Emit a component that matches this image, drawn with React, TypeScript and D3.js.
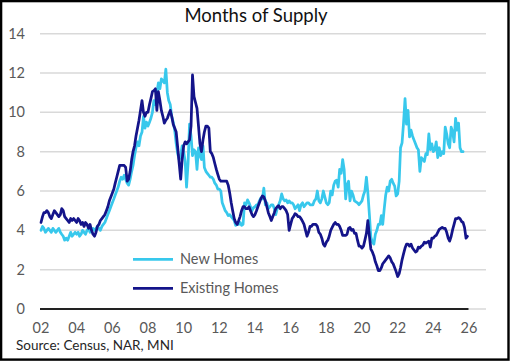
import React from "react";
import * as d3 from "d3";

// monthly data, Jan 2002 onwards
const startYear = 2002;

const newHomes = [
  4.0, 4.2, 4.1, 3.9, 4.0, 4.1, 4.0, 3.9, 4.1, 4.0, 3.9, 4.0,
  4.1, 3.9, 3.8, 3.7, 3.5, 3.6, 3.5, 3.7, 3.9, 3.7, 3.8, 3.9,
  3.8, 3.9, 3.7, 3.8, 4.0, 3.9, 3.8, 4.0, 4.1, 3.9, 4.0, 4.1,
  4.0, 4.1, 4.2, 4.1, 4.0, 4.2, 4.3, 4.4, 4.6, 4.8, 5.0, 5.2,
  5.4, 5.6, 5.8, 6.0, 6.2, 6.5, 6.7, 6.6, 6.8, 6.6, 6.4, 6.3,
  6.6, 7.0, 7.3, 7.8, 8.2, 8.5, 8.3, 8.8, 9.0, 9.8, 9.2, 9.5,
  9.3, 9.5, 9.7, 10.0, 10.6, 10.4, 11.0, 11.5, 11.2, 11.7, 11.6, 11.5,
  12.2, 11.0, 10.6, 10.4, 9.8, 9.5, 9.1, 8.4, 7.9, 7.6, 7.8, 8.3,
  8.0, 7.5, 6.2, 7.4, 9.4, 8.8, 7.8, 8.1, 8.0, 7.1, 8.2, 7.8,
  7.6, 8.3, 7.2, 7.0, 6.9, 6.8, 6.7, 6.7, 6.6, 6.4, 6.3, 6.1,
  6.1, 6.0, 5.4, 5.2, 5.0, 4.9, 4.75, 4.8, 4.7, 4.6, 4.5, 4.25,
  4.3, 4.3, 4.4, 4.25, 4.3, 5.4, 5.3, 5.55, 5.4, 5.2, 5.0, 5.15,
  5.2, 5.3, 5.3, 5.5, 5.65, 5.6, 6.15, 5.3, 5.4, 5.1, 5.2, 5.3,
  5.3, 5.1, 4.8, 5.1, 5.3, 5.5, 5.85, 5.6, 5.5, 5.55, 5.4, 5.5,
  5.4, 5.4, 5.3, 5.1, 5.2, 5.3, 5.0, 5.3, 5.4, 5.2, 5.3, 5.4,
  5.4, 5.3, 5.3, 5.3, 5.5, 5.6, 6.0, 5.5, 5.4, 5.6, 6.0, 5.7,
  5.4, 5.3, 5.4, 6.0, 5.8, 6.3, 6.5, 6.55, 6.2, 7.1, 6.9, 7.6,
  7.1, 5.6, 6.3, 6.5, 5.5, 6.0, 5.8, 5.5, 5.45, 5.4, 5.3, 5.4,
  5.5, 5.8, 6.0, 6.7, 5.9, 4.8, 3.65, 3.4, 3.3, 3.8, 4.0, 4.3,
  4.3, 4.75, 4.3, 5.1, 5.8, 6.2, 6.0, 6.5, 6.6, 6.4, 6.25, 5.75,
  5.85, 6.5, 8.2, 8.45, 9.45, 10.7, 9.4, 10.1, 8.75, 9.1, 8.8, 8.6,
  8.4, 8.2, 8.1, 7.0, 7.7, 7.6, 7.5, 7.9, 7.85, 8.9, 8.1, 8.4,
  8.0, 8.1, 8.5, 7.7, 8.2, 7.8, 8.0, 7.9, 9.25, 8.9, 8.4, 8.2,
  9.25, 9.0, 8.5, 9.7, 9.1, 9.45, 8.2, 8.0, 8.0,
];

const existingHomes = [
  4.4, 4.7, 4.9, 4.9, 5.0, 4.9, 4.7, 4.6, 4.8, 5.0, 4.9, 4.8,
  4.7, 4.8, 5.1, 5.0, 4.7, 4.6, 4.5, 4.4, 4.6, 4.5, 4.6, 4.5,
  4.4, 4.6, 4.5, 4.3, 4.4, 4.2, 4.4, 4.3, 4.1, 4.3, 4.0, 3.8,
  3.7, 3.9, 4.2, 4.3, 4.5, 4.6, 4.7, 4.8, 5.0, 5.2, 5.5, 5.7,
  5.9, 6.1, 6.4, 6.7, 7.0, 7.3, 7.3, 7.3, 7.3, 7.2, 6.5, 6.6,
  7.0, 7.6, 8.0, 8.3, 8.8, 9.2, 9.6, 10.1, 10.6, 10.0, 9.8, 10.0,
  10.0, 10.4, 10.7, 11.05, 11.1, 11.2, 10.1, 11.05, 10.6, 10.1, 9.8, 9.45,
  9.6, 9.7, 9.9, 10.1, 9.8, 9.4, 9.2, 9.0, 8.2, 7.4, 6.6, 7.6,
  8.3, 8.5, 8.4, 8.5, 8.6, 9.3, 11.9, 10.8, 10.5, 10.2, 9.3, 8.4,
  8.0, 8.6, 9.0, 9.3, 9.3, 9.2, 8.0, 7.9, 7.7, 7.4, 7.1, 6.85,
  6.6, 6.5, 6.5, 6.5, 6.5, 6.5, 6.3, 5.9, 5.4, 5.0, 4.6, 4.4,
  4.3, 4.5, 4.7, 5.0, 5.2, 5.2, 5.1, 5.1, 5.2, 5.0, 4.8, 4.7,
  4.8, 5.0, 5.2, 5.4, 5.6, 5.75, 5.7, 5.5, 5.2, 4.9, 4.7, 4.5,
  4.7, 4.9, 5.1, 5.2, 5.25, 5.1, 5.2, 5.2, 5.1, 5.0, 4.8, 4.0,
  4.3, 4.6, 4.7, 4.85, 4.8, 4.7, 4.7, 4.6, 4.45, 4.3, 4.0, 3.7,
  3.9, 4.2, 4.2, 4.3, 4.3, 4.3, 4.2, 3.9, 3.8, 3.6, 3.3, 3.2,
  3.4, 3.5, 3.7, 4.0, 4.15, 4.3, 4.4, 4.3, 4.3, 4.2, 4.0, 3.75,
  3.75, 3.75, 3.8, 4.1, 4.15, 4.0, 4.05, 3.85, 3.85, 3.5, 3.2, 3.2,
  3.1, 3.2, 3.5, 3.85, 4.5, 3.7, 3.05, 2.9, 2.7, 2.4, 2.2, 1.95,
  1.95, 2.1, 2.3, 2.4, 2.5, 2.6, 2.7, 2.6, 2.4, 2.3, 2.1, 1.9,
  1.65, 1.8, 2.1, 2.5, 2.8, 3.1, 3.3, 3.3, 3.2, 3.3, 3.1, 3.0,
  2.9, 2.95, 3.15, 3.1, 3.2, 3.25, 3.4, 3.35, 3.4, 3.45, 3.15, 3.6,
  3.6, 3.7, 3.75, 3.9, 4.05, 4.1, 4.15, 4.1, 4.1, 3.9, 3.6, 3.45,
  3.7, 4.05, 4.3, 4.6, 4.6, 4.65, 4.6, 4.45, 4.4, 4.15, 3.6, 3.7,
];

const seriesNames = ["New Homes", "Existing Homes"];
const yTicks = [0, 2, 4, 6, 8, 10, 12, 14];
const xTickYears = [2002, 2004, 2006, 2008, 2010, 2012, 2014, 2016, 2018, 2020, 2022, 2024, 2026];
const xTickLabels = ["02", "04", "06", "08", "10", "12", "14", "16", "18", "20", "22", "24", "26"];

const W = 510;
const H = 361;
const FONT = "Lato, 'Open Sans', sans-serif";
const colors = ["#38c8ec", "#14148a"];

const monthDate = (i: number) => new Date(startYear, i, 1);

export default function App() {
  const x = d3
    .scaleTime()
    .domain([new Date(2002, 0, 1), new Date(2026, 0, 1)])
    .range([41, 469]);
  const y = d3.scaleLinear().domain([0, 14]).range([309, 33.7]);

  const line = d3
    .line<number>()
    .x((d, i) => x(monthDate(i)))
    .y((d) => y(d));

  const series = [newHomes, existingHomes];
  const lastDate = monthDate(existingHomes.length - 1);

  return (
    <svg
      width={W}
      height={H}
      style={{ position: "fixed", left: 0, top: 0, background: "#fff" }}
      fontFamily={FONT}
    >
      <rect x={0} y={0} width={W} height={H} fill="#fff" />

      {/* gridlines */}
      {yTicks.map((t) => (
        <line key={t} x1={40} x2={486} y1={y(t)} y2={y(t)} stroke="#d9d9d9" strokeWidth={1.5} />
      ))}
      <line x1={40} x2={x(lastDate) + 1} y1={y(0)} y2={y(0)} stroke="#222" strokeWidth={2} />

      {/* y labels */}
      {yTicks.map((t) => (
        <text key={t} x={25} y={y(t) + 5} textAnchor="end" fontSize={14.5} fill="#595959">
          {t}
        </text>
      ))}

      {/* x labels */}
      {xTickYears.map((yr, i) => (
        <text key={yr} x={x(new Date(yr, 0, 1))} y={333} textAnchor="middle" fontSize={14.5} fill="#595959">
          {xTickLabels[i]}
        </text>
      ))}

      {/* lines */}
      {series.map((s, i) => (
        <path
          key={i}
          d={line(s) || ""}
          fill="none"
          stroke={colors[i]}
          strokeWidth={2.75}
          strokeLinejoin="round"
          strokeLinecap="round"
        />
      ))}

      {/* legend */}
      {seriesNames.map((n, i) => (
        <g key={n} transform={`translate(133, ${259.3 + i * 29})`}>
          <line x1={0} x2={40} y1={0} y2={0} stroke={colors[i]} strokeWidth={2.75} />
          <text x={47} y={5} fontSize={14.5} fill="#595959">
            {n}
          </text>
        </g>
      ))}

      <text x={256} y={22} textAnchor="middle" fontSize={18.5} fill="#111">
        Months of Supply
      </text>
      <text x={16} y={349.5} fontSize={13.5} fill="#262626">
        Source: Census, NAR, MNI
      </text>

      <rect x={1.1} y={1.1} width={507.4} height={358.5} fill="none" stroke="#000" strokeWidth={2.4} />
    </svg>
  );
}
